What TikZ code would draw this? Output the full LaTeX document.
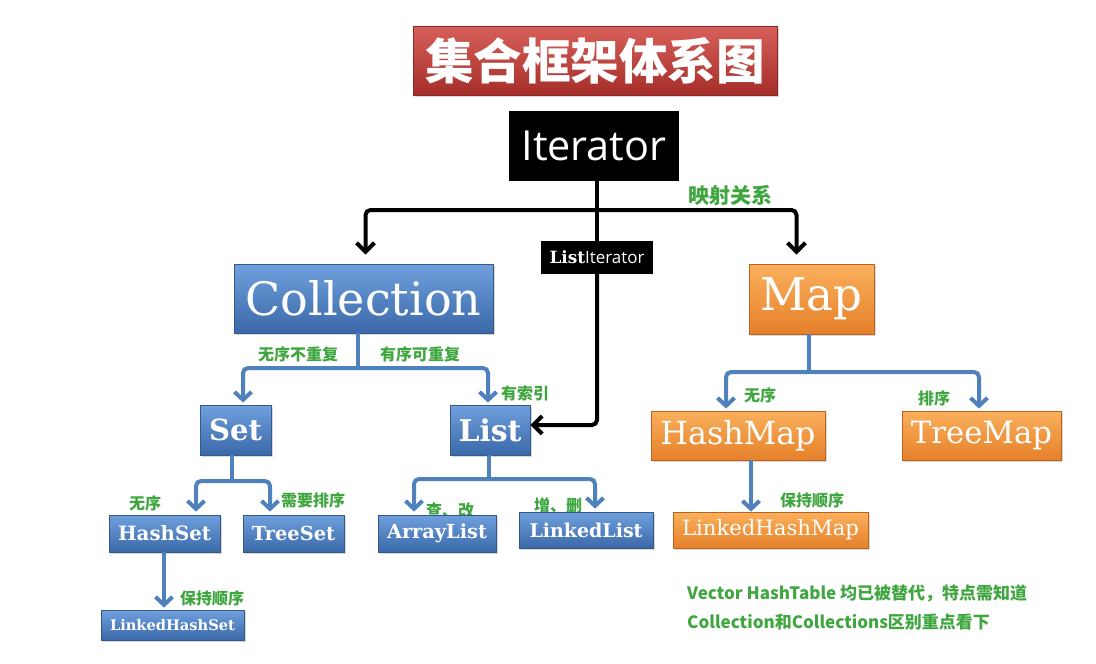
\documentclass[tikz,border=0pt]{standalone}
\usepackage{fontspec}
\setmainfont{DejaVu Serif}
\newfontfamily\cjk{Noto Sans CJK SC}
\newfontfamily\osans{Open Sans}
\usetikzlibrary{arrows.meta,shadows}
\definecolor{blueT}{RGB}{112,160,222}
\definecolor{blueD}{RGB}{58,104,168}
\definecolor{blueB}{RGB}{52,88,135}
\definecolor{orT}{RGB}{250,176,92}
\definecolor{orD}{RGB}{230,128,42}
\definecolor{orB}{RGB}{186,98,30}
\definecolor{redT}{RGB}{216,96,90}
\definecolor{redD}{RGB}{166,46,42}
\definecolor{redB}{RGB}{140,40,36}
\definecolor{lineblue}{RGB}{79,129,189}
\definecolor{lblgreen}{RGB}{64,166,64}
\newcommand\fitw[2]{\resizebox{#1}{!}{#2}}
\tikzset{
  box/.style={inner sep=0pt, draw, line width=0.8pt, text=white,
    drop shadow={shadow xshift=1.5pt,shadow yshift=-1.5pt,opacity=0.3}},
  bluebox/.style={box, draw=blueB, top color=blueT, bottom color=blueD},
  orbox/.style={box, draw=orB, top color=orT, bottom color=orD},
  redbox/.style={box, draw=redB, top color=redT, bottom color=redD},
  blackbox/.style={inner sep=0pt, fill=black, text=white},
  bk/.style={line width=4pt, black, rounded corners=5pt},
  bl/.style={line width=4pt, lineblue, rounded corners=5pt},
  bkarrow/.style={-{Straight Barb[length=9pt,width=18pt]}},
  blarrow/.style={-{Straight Barb[length=8pt,width=17pt]}},
  lbl/.style={inner sep=0pt, text=lblgreen, font=\cjk\bfseries\fontsize{16pt}{18pt}\selectfont},
  note/.style={lbl, anchor=west, font=\cjk\bfseries\fontsize{17pt}{19pt}\selectfont},
}
\begin{document}
\begin{tikzpicture}[x=1pt,y=-1pt]
\fill[white] (0,0) rectangle (1096,664);
\useasboundingbox (0,0) rectangle (1096,664);

% labels partly hidden behind boxes
\node[lbl] (lcg) at (450,510) {查、改};
\node[lbl] (lzs) at (558,505) {增、删};

% boxes
\node[redbox, minimum width=364pt, minimum height=69pt] (title) at (595,60.5)
  {\fitw{340pt}{\cjk\bfseries 集合框架体系图}};
\node[blackbox, minimum width=170pt, minimum height=70pt] (iter) at (594,146)
  {\fitw{145pt}{\osans Iterator}};
\node[blackbox, minimum width=112pt, minimum height=33pt] (liter) at (597,257.5)
  {\fitw{95pt}{\bfseries List\osans\mdseries Iterator}};
\node[bluebox, minimum width=259pt, minimum height=69pt] (coll) at (363.5,298.5)
  {\fitw{236pt}{Collection}};
\node[orbox, minimum width=125pt, minimum height=70pt] (map) at (811.5,299)
  {\fitw{102pt}{Map}};
\node[bluebox, minimum width=71pt, minimum height=50pt] (set) at (235.5,430)
  {\fitw{53pt}{\bfseries Set}};
\node[bluebox, minimum width=80pt, minimum height=50pt] (list) at (490,430)
  {\fitw{63pt}{\bfseries List}};
\node[orbox, minimum width=174pt, minimum height=49pt] (hmap) at (738,435.5)
  {\fitw{155pt}{HashMap}};
\node[orbox, minimum width=159pt, minimum height=49pt] (tmap) at (981.5,435.5)
  {\fitw{141pt}{TreeMap}};
\node[bluebox, minimum width=111pt, minimum height=37pt] (hset) at (164.5,533.5)
  {\fitw{93pt}{\bfseries HashSet}};
\node[bluebox, minimum width=101pt, minimum height=37pt] (tset) at (293.5,533.5)
  {\fitw{83pt}{\bfseries TreeSet}};
\node[bluebox, minimum width=118pt, minimum height=37pt] (alist) at (437,533.5)
  {\fitw{100pt}{\bfseries ArrayList}};
\node[bluebox, minimum width=134pt, minimum height=36pt] (llist) at (586,530)
  {\fitw{113pt}{\bfseries LinkedList}};
\node[bluebox, minimum width=143pt, minimum height=30pt] (lhset) at (172.5,625)
  {\fitw{125pt}{\bfseries LinkedHashSet}};
\node[orbox, minimum width=195pt, minimum height=36pt] (lhmap) at (770.5,530)
  {\fitw{177pt}{LinkedHashMap}};

% black connectors
\coordinate (jt) at (597,210);
\draw[bk] (iter.south -| liter.north) -- (liter.north);
\draw[bk, bkarrow, shorten >=9pt] (jt) -| ([xshift=2pt]coll.north);
\draw[bk, bkarrow, shorten >=9pt] (jt) -| ([xshift=-15pt]map.north);
\draw[bk, bkarrow] (liter.south) |- ([yshift=5pt]list.east);

% blue connectors
\coordinate (cj) at (358,368);
\draw[bl] ([xshift=-5.5pt]coll.south) -- (cj);
\draw[bl, blarrow, shorten >=2pt] (cj) -| ([xshift=7.5pt]set.north);
\draw[bl, blarrow, shorten >=2pt] (cj) -| ([xshift=-2pt]list.north);

\coordinate (sj) at (232,481);
\draw[bl] ([xshift=-3.5pt]set.south) -- (sj);
\draw[bl, blarrow, shorten >=3pt] (sj) -| ([xshift=31.5pt]hset.north);
\draw[bl, blarrow, shorten >=3pt] (sj) -| ([xshift=-23.5pt]tset.north);

\coordinate (lj) at (489,479);
\draw[bl] ([xshift=-1pt]list.south) -- (lj);
\draw[bl, blarrow, shorten >=3pt] (lj) -| ([xshift=-23pt]alist.north);
\draw[bl, blarrow, shorten >=3pt] (lj) -| ([xshift=9pt]llist.north);

\draw[bl, blarrow, shorten >=2pt] ([xshift=-0.5pt]hset.south) -- ([xshift=-8.5pt]lhset.north);

\coordinate (mj) at (809,372);
\draw[bl] ([xshift=-2.5pt]map.south) -- (mj);
\draw[bl, blarrow, shorten >=2pt] (mj) -| ([xshift=-12pt]hmap.north);
\draw[bl, blarrow, shorten >=2pt] (mj) -| ([xshift=-2.5pt]tmap.north);

\draw[bl, blarrow] ([xshift=13pt]hmap.south) -- ([xshift=-19.5pt]lhmap.north);

% labels
\node[lbl, font=\cjk\bfseries\fontsize{21pt}{23pt}\selectfont] (lys) at (730,195) {映射关系};
\node[lbl] (lwb) at (298,354) {无序不重复};
\node[lbl] (lyk) at (420,354) {有序可重复};
\node[lbl] (lsy) at (525,393) {有索引};
\node[lbl] (lw1) at (145,503) {无序};
\node[lbl] (lxy) at (313,500) {需要排序};
\node[lbl] (lbc1) at (212,598) {保持顺序};
\node[lbl] (lw2) at (760,395) {无序};
\node[lbl] (lpx) at (934,398) {排序};
\node[lbl] (lbc2) at (812,500) {保持顺序};

\node[note] (note1) at (687,593) {Vector HashTable 均已被替代，特点需知道};
\node[note] (note2) at (687,622) {Collection和Collections区别重点看下};
\end{tikzpicture}
\end{document}
